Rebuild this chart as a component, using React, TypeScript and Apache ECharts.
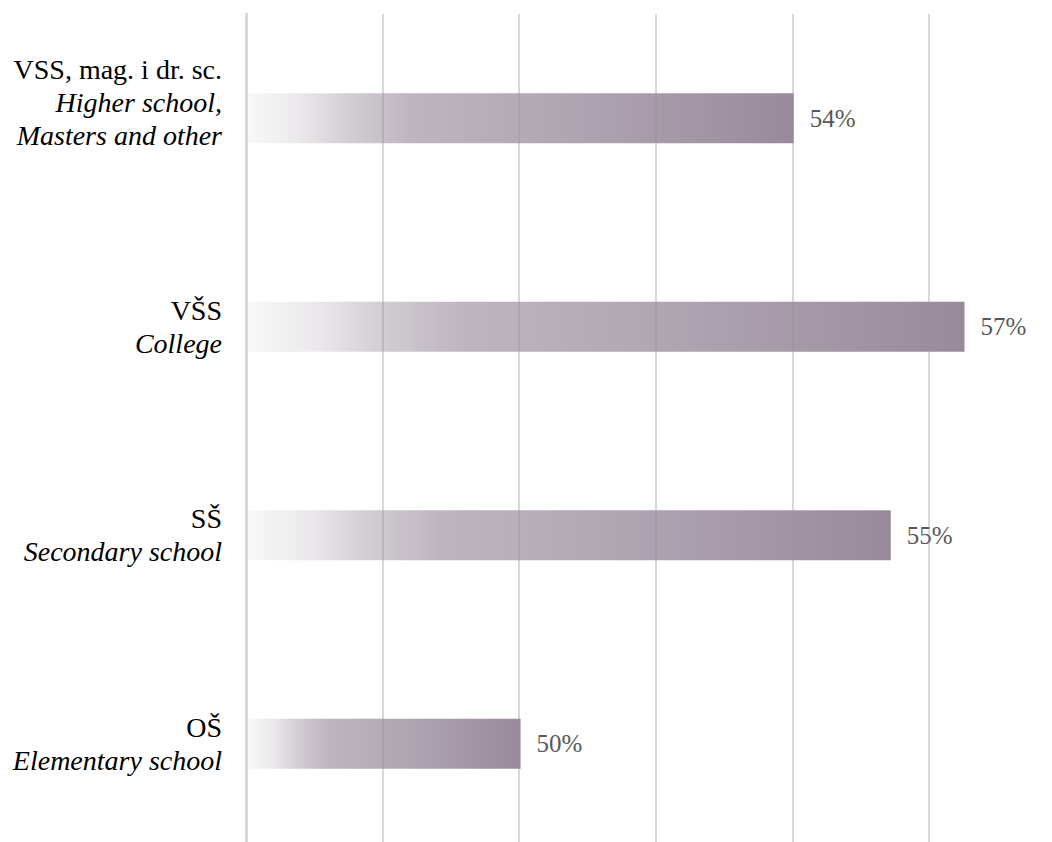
import React, { useEffect, useRef } from "react";
import * as echarts from "echarts";

const categoriesTop = ["VSS, mag. i dr. sc.", "VŠS", "SŠ", "OŠ"];
const categoriesEnglish = [["Higher school,", "Masters and other"], ["College"], ["Secondary school"], ["Elementary school"]];
const shares = [0.5402, 0.5652, 0.5544, 0.5002];
const axisMin = 0.46;
const axisMax = 0.58;
const axisStep = 0.02;

export default function App() {
  const ref = useRef<HTMLDivElement>(null);
  useEffect(() => {
    if (!ref.current) return;
    const chart = echarts.init(ref.current, null, { renderer: "svg" });
    const font = "Liberation Serif";
    const yData = categoriesTop.map((c, i) => {
      const lines = categoriesEnglish[i];
      const value = "{a|" + c + "}\n" + lines.map((l) => "{b|" + l + "}").join("\n");
      return lines.length > 1
        ? { value, textStyle: { padding: [0, 0, 32, 0] } }
        : { value };
    });
    chart.setOption({
      animation: false,
      grid: { left: 246, top: 14, width: 819.6, height: 834, outerBoundsMode: "none", containLabel: false },
      xAxis: {
        type: "value",
        min: axisMin,
        max: axisMax,
        interval: axisStep,
        z: 5,
        axisLabel: { show: false },
        axisLine: { show: false },
        axisTick: { show: false },
        splitLine: { show: true, lineStyle: { color: "rgba(150,150,150,0.37)", width: 2 } },
      },
      yAxis: {
        type: "category",
        inverse: true,
        data: yData,
        z: 6,
        axisTick: { show: false },
        axisLine: { show: true, lineStyle: { color: "#d9d9d9", width: 3 } },
        axisLabel: {
          margin: 24,
          fontFamily: font,
          align: "right",
          rich: {
            a: { fontFamily: font, fontSize: 28, color: "#000", lineHeight: 33, align: "right" },
            b: { fontFamily: font, fontSize: 28, fontStyle: "italic", color: "#000", lineHeight: 33, align: "right" },
          },
        },
      },
      series: [
        {
          type: "bar",
          data: shares,
          barWidth: 50,
          itemStyle: {
            color: new echarts.graphic.LinearGradient(0, 0, 1, 0, [
              { offset: 0, color: "#f9f9f9" },
              { offset: 0.1, color: "#ebe8eb" },
              { offset: 0.2, color: "#d0cad1" },
              { offset: 0.3, color: "#bfb5c1" },
              { offset: 0.6, color: "#afa4b1" },
              { offset: 1, color: "#998a9b" },
            ]),
          },
          label: {
            show: true,
            position: "right",
            distance: 16,
            fontFamily: font,
            fontSize: 25,
            color: "#595959",
            formatter: (p: any) => Math.round(p.value * 100) + "%",
          },
        },
      ],
    });
    return () => chart.dispose();
  }, []);
  return (
    <div
      ref={ref}
      style={{ position: "fixed", left: 0, top: 0, width: 1052, height: 842, background: "#fff" }}
    />
  );
}
